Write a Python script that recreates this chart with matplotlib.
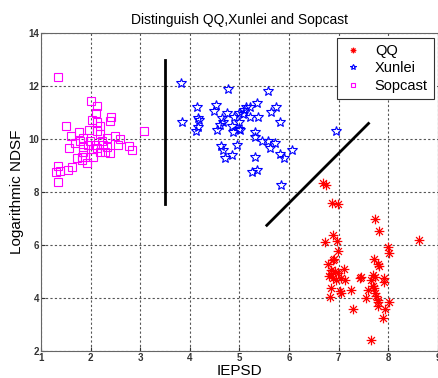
import numpy as np
import matplotlib.pyplot as plt
from matplotlib.path import Path

plt.rcParams['font.family'] = ['Liberation Sans', 'DejaVu Sans']

# QQ cluster (IEPSD, log NDSF)
qq_x = [6.69, 6.75, 6.87, 6.98, 7.74, 7.82, 6.88, 6.73, 6.97, 8.61, 7.99, 8.02,
        6.99, 6.91, 6.88, 7.72, 7.79, 7.82, 6.78, 7.10, 6.84, 6.92, 6.85, 6.98,
        6.81, 6.88, 7.05, 7.12, 6.95, 7.69, 7.74, 7.91, 7.42, 7.45, 7.65, 7.92,
        7.69, 7.72, 6.85, 7.24, 7.02, 7.05, 7.59, 7.74, 7.75, 6.83, 7.55, 7.79,
        8.02, 7.79, 7.28, 7.94, 7.89, 7.80, 7.65]
qq_y = [8.35, 8.28, 7.59, 7.55, 6.99, 6.52, 6.37, 6.11, 6.17, 6.21, 5.92, 5.71,
        5.79, 5.48, 5.43, 5.48, 5.29, 5.20, 5.29, 5.11, 5.08, 5.01, 4.91, 4.95,
        4.82, 4.76, 4.76, 4.70, 4.70, 4.89, 4.80, 4.76, 4.76, 4.80, 4.70, 4.60,
        4.45, 4.39, 4.39, 4.32, 4.26, 4.20, 4.29, 4.20, 4.09, 4.04, 4.00, 3.94,
        3.84, 3.69, 3.60, 3.60, 3.25, 3.84, 2.41]

xunlei_x = [3.83, 4.77, 5.58, 4.15, 4.52, 5.35, 5.73, 5.14, 4.48, 4.74, 5.00, 5.09,
            5.22, 5.64, 3.85, 4.17, 4.19, 4.64, 4.89, 5.07, 5.22, 5.37, 5.81, 4.67,
            4.99, 4.17, 4.60, 4.85, 4.13, 4.55, 5.00, 4.86, 5.02, 6.95, 5.31, 5.31,
            5.46, 5.57, 5.71, 5.61, 4.95, 4.62, 4.66, 6.06, 4.84, 4.70, 5.82, 5.89,
            5.31, 5.36, 5.25, 5.84]
xunlei_y = [12.14, 11.91, 11.84, 11.24, 11.28, 11.39, 11.24, 11.24, 11.08, 10.99,
            11.01, 11.11, 11.21, 11.05, 10.65, 10.80, 10.74, 10.80, 10.84, 10.96,
            10.84, 10.84, 10.65, 10.67, 10.67, 10.48, 10.55, 10.52, 10.33, 10.36,
            10.38, 10.26, 10.36, 10.30, 10.26, 10.08, 9.92, 9.94, 9.86, 9.69, 9.77,
            9.75, 9.58, 9.58, 9.42, 9.31, 9.44, 9.31, 9.33, 8.85, 8.75, 8.28]

sop_x = [1.35, 2.00, 2.12, 2.10, 2.41, 2.39, 2.03, 2.12, 2.19, 1.50, 1.97, 2.13,
         3.07, 1.77, 1.60, 2.19, 2.49, 2.34, 2.59, 1.85, 1.78, 1.99, 2.22, 1.68,
         1.95, 2.09, 2.25, 2.56, 1.57, 1.85, 2.12, 2.32, 2.78, 2.84, 1.85, 2.05,
         2.29, 2.40, 2.19, 1.82, 1.72, 1.89, 2.05, 1.92, 1.82, 1.62, 1.35, 1.38,
         1.30, 1.54, 1.34]
sop_y = [12.37, 11.46, 11.26, 10.99, 10.86, 10.71, 10.74, 10.67, 10.52, 10.52,
         10.36, 10.30, 10.32, 10.26, 10.14, 10.21, 10.13, 10.05, 10.02, 10.05,
         9.95, 9.92, 9.92, 9.86, 9.79, 9.79, 9.79, 9.77, 9.66, 9.71, 9.67, 9.71,
         9.73, 9.58, 9.54, 9.63, 9.54, 9.48, 9.54, 9.35, 9.29, 9.33, 9.35, 9.10,
         9.23, 8.95, 9.00, 8.82, 8.76, 8.85, 8.37]

# separating lines
vline_x = [3.5, 3.5]
vline_y = [13.0, 7.57]
dline_x = [5.55, 7.6]
dline_y = [6.75, 10.6]

# matlab-like asterisk: '+' and 'x' together
d = 0.7071
star_path = Path([(-1, 0), (1, 0), (0, -1), (0, 1), (-d, -d), (d, d), (-d, d), (d, -d)],
                 [Path.MOVETO, Path.LINETO] * 4)

fig = plt.figure(figsize=(4.38, 3.78), dpi=100)
ax = fig.add_axes([0.0936, 0.0714, 0.9064, 0.840])

ax.plot(qq_x, qq_y, linestyle='none', marker=star_path, color='red',
        markersize=7, markeredgewidth=0.9, label='QQ')
ax.plot(xunlei_x, xunlei_y, linestyle='none', marker='*', markerfacecolor='none',
        markeredgecolor='blue', markersize=7, markeredgewidth=0.8, label='Xunlei')
ax.plot(sop_x, sop_y, linestyle='none', marker='s', markerfacecolor='none',
        markeredgecolor='magenta', markersize=5.5, markeredgewidth=0.8, label='Sopcast')

ax.plot(vline_x, vline_y, color='black', linewidth=2)
ax.plot(dline_x, dline_y, color='black', linewidth=2)

ax.set_xlim(1, 9)
ax.set_ylim(2, 14)
ax.set_xticks(range(1, 10))
ax.set_yticks(range(2, 15, 2))
ax.tick_params(direction='in', labelsize=7, colors='#333333', length=3, pad=1.5)
for lbl in ax.get_xticklabels() + ax.get_yticklabels():
    lbl.set_fontweight('bold')
ax.grid(True, linestyle=(0, (2, 2)), color='#555555', linewidth=0.8)
for s in ax.spines.values():
    s.set_color('#666666')

ax.set_title('Distinguish QQ,Xunlei and Sopcast', fontsize=10, pad=7)
ax.set_xlabel('IEPSD', fontsize=11, labelpad=1)
ax.set_ylabel('Logarithmic NDSF', fontsize=11, labelpad=3)

leg = ax.legend(loc='upper right', fontsize=10.5, fancybox=False, framealpha=1,
                edgecolor='#333333', borderaxespad=0.3, handlelength=1.4,
                markerscale=0.6, labelspacing=0.25)
leg.get_frame().set_linewidth(0.8)

plt.savefig('out.png', dpi=100)
